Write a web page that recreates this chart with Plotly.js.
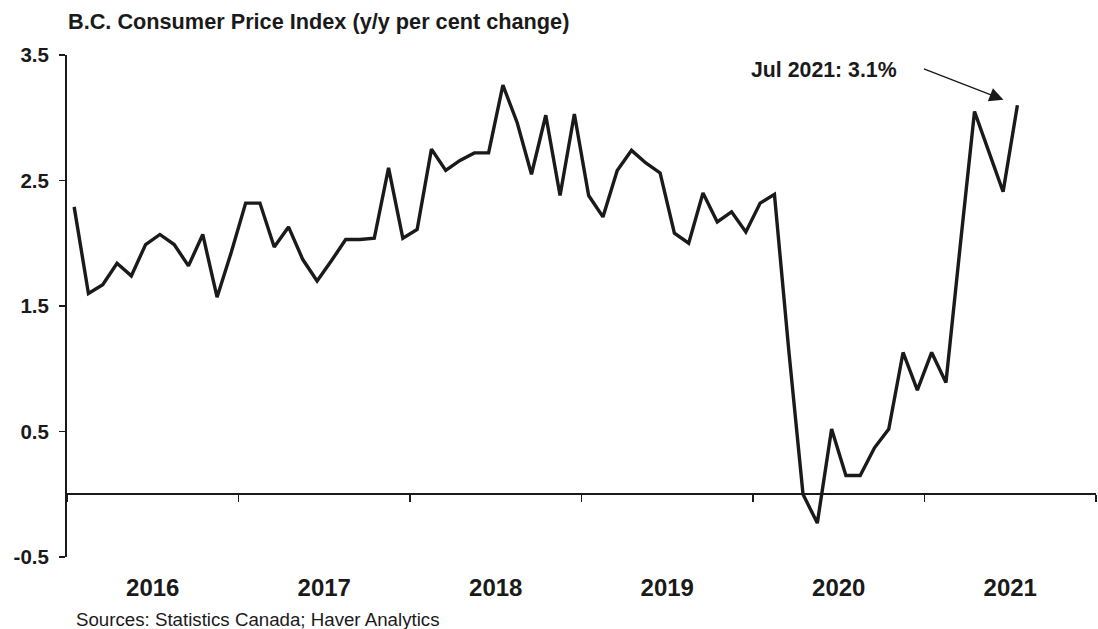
<!DOCTYPE html>
<html>
<head>
<meta charset="utf-8">
<script src="https://cdn.plot.ly/plotly-3.0.1.min.js"></script>
<style>html,body{margin:0;padding:0;background:#fff;}#chart{width:1098px;height:629px;}</style>
</head>
<body>
<div id="chart"></div>
<script>
// Monthly B.C. CPI, y/y % change, Jan 2016 – Jul 2021
const months = [
  '2016-01','2016-02','2016-03','2016-04','2016-05','2016-06','2016-07','2016-08','2016-09','2016-10','2016-11','2016-12',
  '2017-01','2017-02','2017-03','2017-04','2017-05','2017-06','2017-07','2017-08','2017-09','2017-10','2017-11','2017-12',
  '2018-01','2018-02','2018-03','2018-04','2018-05','2018-06','2018-07','2018-08','2018-09','2018-10','2018-11','2018-12',
  '2019-01','2019-02','2019-03','2019-04','2019-05','2019-06','2019-07','2019-08','2019-09','2019-10','2019-11','2019-12',
  '2020-01','2020-02','2020-03','2020-04','2020-05','2020-06','2020-07','2020-08','2020-09','2020-10','2020-11','2020-12',
  '2021-01','2021-02','2021-03','2021-04','2021-05','2021-06','2021-07'
];
const cpi = [
  2.29,1.60,1.67,1.84,1.74,1.99,2.07,1.99,1.82,2.07,1.57,1.93,
  2.32,2.32,1.97,2.13,1.87,1.70,1.86,2.03,2.03,2.04,2.60,2.04,
  2.11,2.75,2.58,2.66,2.72,2.72,3.26,2.96,2.55,3.02,2.38,3.03,
  2.38,2.21,2.58,2.74,2.64,2.56,2.08,2.00,2.40,2.17,2.25,2.09,
  2.32,2.39,1.15,0.00,-0.23,0.52,0.15,0.15,0.37,0.52,1.13,0.83,
  1.13,0.89,1.98,3.05,2.73,2.41,3.10
];
const years = ['2016','2017','2018','2019','2020','2021'];
const yTicks = [-0.5, 0.5, 1.5, 2.5, 3.5];

// month position: months since Jan 2016
const monthIdx = months.map(m => {
  const [y, mo] = m.split('-').map(Number);
  return (y - 2016) * 12 + (mo - 1);
});
const yearCenters = years.map((y, i) => i * 12 + 5.5);
const yearBounds = years.map((y, i) => i * 12 - 0.5).concat([years.length * 12 - 0.5]);
const xRange = [-0.5, years.length * 12 - 0.5];
const last = months.length - 1;

const FONT = 'Liberation Sans, Arial, sans-serif';
const INK = '#1a1a1a';

const data = [
  { // empty carrier so the zero-line axis (x2) is drawn
    type: 'scatter', mode: 'lines', x: [], y: [], xaxis: 'x2', yaxis: 'y',
    hoverinfo: 'skip', showlegend: false
  },
  {
    type: 'scatter', mode: 'lines',
    x: monthIdx, y: cpi, xaxis: 'x', yaxis: 'y',
    line: {color: INK, width: 3.4},
    hoverinfo: 'skip', showlegend: false
  }
];

const layout = {
  width: 1098, height: 629,
  margin: {l: 67, r: 2, t: 55, b: 72},
  paper_bgcolor: '#ffffff', plot_bgcolor: '#ffffff',
  showlegend: false,
  title: {
    text: '<b>B.C. Consumer Price Index (y/y per cent change)</b>',
    font: {family: FONT, size: 21.7, color: INK},
    x: 68/1098, xanchor: 'left', xref: 'container',
    y: 1 - 21/629, yanchor: 'middle', yref: 'container'
  },
  xaxis: {
    range: xRange, showgrid: false, zeroline: false, showline: false,
    tickmode: 'array', tickvals: yearCenters, ticktext: years.map(y => '<b>' + y + '</b>'),
    ticks: '', ticklabelstandoff: 14,
    tickfont: {family: FONT, size: 24, color: INK},
    fixedrange: true
  },
  xaxis2: {
    overlaying: 'x', anchor: 'free', position: 0.125, side: 'bottom',
    range: xRange, showgrid: false, zeroline: false,
    showline: true, linecolor: INK, linewidth: 2,
    tickmode: 'array', tickvals: yearBounds, ticks: 'outside', ticklen: 7,
    tickwidth: 1.5, tickcolor: INK, showticklabels: false, fixedrange: true
  },
  yaxis: {
    range: [-0.5, 3.5], showgrid: false, zeroline: false,
    showline: true, linecolor: INK, linewidth: 2,
    tickmode: 'array', tickvals: yTicks, ticktext: yTicks.map(v => '<b>' + v.toFixed(1) + '</b>'),
    ticks: 'outside', ticklen: 6, tickwidth: 1.5, tickcolor: INK,
    ticklabelstandoff: 6,
    tickfont: {family: FONT, size: 20.5, color: INK},
    fixedrange: true
  },
  annotations: [
    {
      x: monthIdx[last], y: cpi[last], xref: 'x', yref: 'y',
      text: '', showarrow: true, ax: -95, ay: -37, axref: 'pixel', ayref: 'pixel',
      arrowhead: 2, arrowsize: 2, arrowwidth: 1.4, arrowcolor: INK, standoff: 15
    },
    {
      x: monthIdx[last], y: cpi[last], xref: 'x', yref: 'y',
      text: '<b>Jul 2021: ' + cpi[last].toFixed(1) + '%</b>', showarrow: false,
      xshift: -193, yshift: 35,
      font: {family: FONT, size: 21.3, color: INK}
    },
    {
      x: 7/1029, y: -0.125, xref: 'paper', yref: 'paper',
      xanchor: 'left', yanchor: 'middle',
      text: 'Sources: Statistics Canada; Haver Analytics', showarrow: false,
      font: {family: FONT, size: 18.7, color: INK}
    }
  ]
};

Plotly.newPlot('chart', data, layout, {displayModeBar: false, staticPlot: true});
</script>
</body>
</html>
